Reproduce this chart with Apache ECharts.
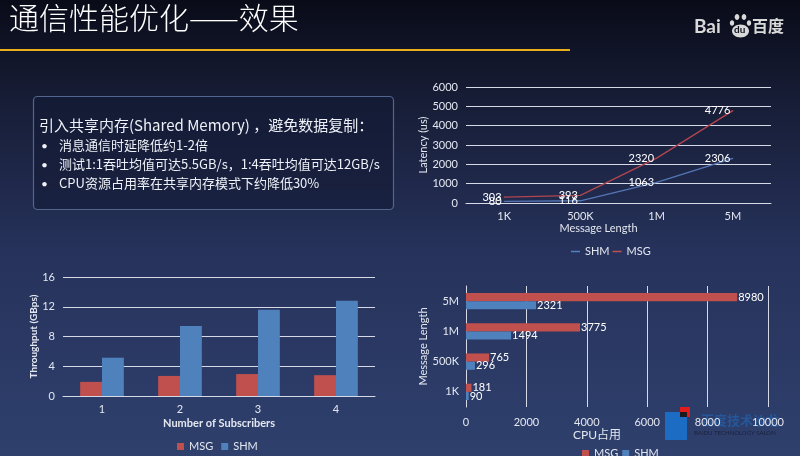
<!DOCTYPE html>
<html>
<head>
<meta charset="utf-8">
<script src="https://cdn.jsdelivr.net/npm/echarts@6/dist/echarts.min.js"></script>
<style>
html, body { margin: 0; padding: 0; }
#main { width: 800px; height: 456px; }
</style>
</head>
<body>
<div id="main"></div>
<script>
// latency chart
var lenCats = ['1K', '500K', '1M', '5M'];
var latShm = [80, 116, 1063, 2306];
var latMsg = [303, 393, 2320, 4776];
// throughput chart
var subCats = ['1', '2', '3', '4'];
var thrMsg = [1.9, 2.7, 2.95, 2.8];
var thrShm = [5.15, 9.4, 11.6, 12.8];
// cpu chart
var cpuMsg = [181, 765, 3775, 8980];
var cpuShm = [90, 296, 1494, 2321];

var FONT = 'Lato, "Noto Sans CJK SC", sans-serif';
var CJK = '"Noto Sans CJK SC", sans-serif';
var TXT = '#e3e7f0';
var GRIDLINE = '#d5dae6';
var RED = '#c0504d';
var BLUE = '#4f81bd';

var chart = echarts.init(document.getElementById('main'));

function plain(v) { return String(v); }

function valueAxis(extra) {
    var ax = {
        type: 'value',
        axisLine: { show: false },
        axisTick: { show: false },
        axisLabel: { color: TXT, fontSize: 11, fontFamily: FONT, formatter: plain },
        splitLine: { lineStyle: { color: GRIDLINE, width: 1 } }
    };
    return Object.assign(ax, extra);
}

function catAxis(extra) {
    var ax = {
        type: 'category',
        axisLine: { lineStyle: { color: GRIDLINE, width: 1 } },
        axisTick: { show: false },
        axisLabel: { color: TXT, fontSize: 11, fontFamily: FONT },
        splitLine: { show: false }
    };
    return Object.assign(ax, extra);
}

var option = {
    backgroundColor: new echarts.graphic.LinearGradient(0, 0, 0, 1, [
        { offset: 0, color: '#090b18' },
        { offset: 0.22, color: '#171d36' },
        { offset: 0.55, color: '#26325b' },
        { offset: 1, color: '#2f406d' }
    ]),
    textStyle: { fontFamily: FONT },
    animation: false,
    legend: [
        {
            data: ['SHM', 'MSG'],
            left: 566, top: 241,
            icon: 'rect', itemWidth: 9, itemHeight: 1.5, itemGap: 3,
            textStyle: { color: TXT, fontSize: 11, fontFamily: FONT }
        },
        {
            data: ['MSG', 'SHM'],
            left: 172, top: 436,
            icon: 'rect', itemWidth: 7, itemHeight: 7, itemGap: 8,
            textStyle: { color: TXT, fontSize: 11, fontFamily: FONT }
        },
        {
            data: ['MSG', 'SHM'],
            left: 577, top: 443,
            icon: 'rect', itemWidth: 7, itemHeight: 7, itemGap: 4,
            textStyle: { color: TXT, fontSize: 11, fontFamily: FONT }
        }
    ],
    grid: [
        { left: 466, right: 29, top: 87, bottom: 253 },
        { left: 63, right: 425, top: 277, bottom: 60 },
        { left: 466, right: 32, top: 286, bottom: 49 }
    ],
    xAxis: [
        catAxis({
            gridIndex: 0, data: lenCats,
            name: 'Message Length', nameLocation: 'middle', nameGap: 20,
            nameTextStyle: { color: TXT, fontSize: 11, fontFamily: FONT, padding: [0, 40, 0, 0] }
        }),
        catAxis({
            gridIndex: 1, data: subCats,
            name: 'Number of Subscribers', nameLocation: 'middle', nameGap: 22,
            nameTextStyle: { color: TXT, fontSize: 11, fontWeight: 'bold', fontFamily: FONT }
        }),
        valueAxis({
            gridIndex: 2, min: 0, max: 10000, interval: 2000,
            axisLabel: { color: TXT, fontSize: 11, fontFamily: FONT, margin: 10, formatter: plain },
            name: 'CPU占用', nameLocation: 'middle', nameGap: 22,
            nameTextStyle: { color: TXT, fontSize: 12, fontFamily: FONT, padding: [0, 40, 0, 0] }
        })
    ],
    yAxis: [
        valueAxis({
            gridIndex: 0, min: 0, max: 6000, interval: 1000,
            name: 'Latency (us)', nameLocation: 'middle', nameGap: 30,
            nameTextStyle: { color: TXT, fontSize: 11, fontFamily: FONT }
        }),
        valueAxis({
            gridIndex: 1, min: 0, max: 16, interval: 4,
            name: 'Throughput (GBps)', nameLocation: 'middle', nameGap: 18,
            nameTextStyle: { color: TXT, fontSize: 10, fontWeight: 'bold', fontFamily: FONT }
        }),
        catAxis({
            gridIndex: 2, data: lenCats,
            axisLine: { lineStyle: { color: GRIDLINE, width: 1 } },
            axisLabel: { color: TXT, fontSize: 11, fontFamily: FONT, margin: 7 },
            name: 'Message Length', nameLocation: 'middle', nameGap: 29,
            nameTextStyle: { color: TXT, fontSize: 11, fontFamily: FONT }
        })
    ],
    series: [
        {
            name: 'SHM', type: 'line', xAxisIndex: 0, yAxisIndex: 0,
            data: latShm, symbol: 'circle', symbolSize: 1,
            lineStyle: { color: '#5576b4', width: 1.3 },
            itemStyle: { color: BLUE },
            label: { show: true, position: 'left', distance: 2, color: '#ffffff', fontSize: 11, fontFamily: FONT }
        },
        {
            name: 'MSG', type: 'line', xAxisIndex: 0, yAxisIndex: 0,
            data: latMsg, symbol: 'circle', symbolSize: 1,
            lineStyle: { color: '#b2464f', width: 1.3 },
            itemStyle: { color: RED },
            label: { show: true, position: 'left', distance: 2, color: '#ffffff', fontSize: 11, fontFamily: FONT }
        },
        {
            name: 'MSG', type: 'bar', xAxisIndex: 1, yAxisIndex: 1,
            data: thrMsg, barGap: '0%', barCategoryGap: '44%',
            itemStyle: { color: RED }
        },
        {
            name: 'SHM', type: 'bar', xAxisIndex: 1, yAxisIndex: 1,
            data: thrShm, barGap: '0%', barCategoryGap: '44%',
            itemStyle: { color: BLUE }
        },
        {
            name: 'MSG', type: 'bar', xAxisIndex: 2, yAxisIndex: 2,
            data: cpuMsg, barGap: '0%', barCategoryGap: '46%',
            itemStyle: { color: RED },
            label: { show: true, position: 'right', distance: 1, color: '#ffffff', fontSize: 11, fontFamily: FONT }
        },
        {
            name: 'SHM', type: 'bar', xAxisIndex: 2, yAxisIndex: 2,
            data: cpuShm, barGap: '0%', barCategoryGap: '46%',
            itemStyle: { color: BLUE },
            label: { show: true, position: 'right', distance: 1, color: '#ffffff', fontSize: 11, fontFamily: FONT }
        }
    ],
    graphic: [
        // title and rule
        {
            type: 'text', left: 9, top: 3,
            style: { text: '通信性能优化——效果', fill: '#ffffff', font: '300 30px ' + CJK }
        },
        {
            type: 'line', shape: { x1: 0, y1: 50, x2: 570, y2: 50 },
            style: { stroke: '#e8ae1c', lineWidth: 2 }
        },
        // baidu logo
        {
            type: 'group', left: 694, top: 14,
            children: [
                { type: 'text', x: 0, y: 5, style: { text: 'Bai', fill: '#d9d9d9', font: 'bold 19px ' + FONT } },
                { type: 'ellipse', shape: { cx: 43, cy: 5, rx: 2.3, ry: 3 }, style: { fill: '#d9d9d9' } },
                { type: 'ellipse', shape: { cx: 50, cy: 5, rx: 2.3, ry: 3 }, style: { fill: '#d9d9d9' } },
                { type: 'ellipse', shape: { cx: 38, cy: 11, rx: 2.2, ry: 2.8 }, style: { fill: '#d9d9d9' } },
                { type: 'ellipse', shape: { cx: 55, cy: 11, rx: 2.2, ry: 2.8 }, style: { fill: '#d9d9d9' } },
                { type: 'ellipse', shape: { cx: 46.5, cy: 19, rx: 8.5, ry: 6.5 }, style: { fill: '#d9d9d9' } },
                { type: 'text', x: 40, y: 13, style: { text: 'du', fill: '#0c0f1e', font: 'bold 10px ' + FONT } },
                { type: 'text', x: 58, y: 6, style: { text: '百度', fill: '#d9d9d9', font: 'bold 16px ' + CJK } }
            ]
        },
        // text box
        {
            type: 'rect', shape: { x: 33.5, y: 96.5, width: 360, height: 113, r: 4 },
            style: { fill: 'rgba(18,25,52,0.55)', stroke: '#53648f', lineWidth: 1.2 }
        },
        {
            type: 'text', x: 39, y: 118,
            style: { text: '引入共享内存(Shared Memory) ，避免数据复制：', fill: '#eef1f7', font: '15px ' + CJK }
        },
        { type: 'text', x: 41, y: 140, style: { text: '•', fill: '#eef1f7', font: '12px ' + FONT } },
        { type: 'text', x: 41, y: 159, style: { text: '•', fill: '#eef1f7', font: '12px ' + FONT } },
        { type: 'text', x: 41, y: 178, style: { text: '•', fill: '#eef1f7', font: '12px ' + FONT } },
        { type: 'text', x: 59, y: 139, style: { text: '消息通信时延降低约1-2倍', fill: '#eef1f7', font: '13px ' + CJK } },
        { type: 'text', x: 59, y: 158, style: { text: '测试1:1吞吐均值可达5.5GB/s，1:4吞吐均值可达12GB/s', fill: '#eef1f7', font: '13px ' + CJK } },
        { type: 'text', x: 59, y: 177, style: { text: 'CPU资源占用率在共享内存模式下约降低30%', fill: '#eef1f7', font: '13px ' + CJK } },
        // salon watermark
        {
            type: 'group', left: 665, top: 407, z: -1,
            children: [
                { type: 'rect', shape: { x: 0, y: 5, width: 22, height: 28 }, style: { fill: '#1d6cc4' } },
                { type: 'rect', shape: { x: 15, y: 0, width: 10, height: 10 }, style: { fill: '#e01c1c' } },
                { type: 'rect', shape: { x: 15, y: 5, width: 7, height: 5 }, style: { fill: '#1a1a1a' } },
                { type: 'text', x: 36, y: 7, style: { text: '百度技术沙龙', fill: 'rgba(31,108,192,0.55)', font: 'bold 13px ' + CJK } },
                { type: 'text', x: 29, y: 23, style: { text: 'BAIDU TECHNOLOGY SALON', fill: 'rgba(20,26,50,0.8)', font: '6px ' + FONT } }
            ]
        }
    ]
};

chart.setOption(option);
</script>
</body>
</html>
